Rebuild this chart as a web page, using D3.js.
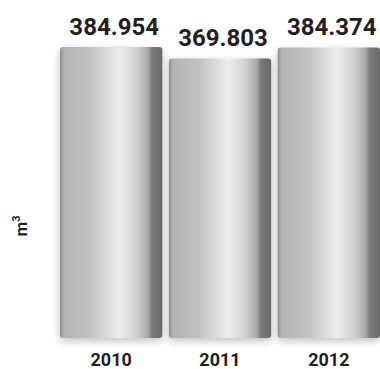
<!DOCTYPE html>
<html>
<head>
<meta charset="utf-8">
<script src="https://cdn.jsdelivr.net/npm/d3@7"></script>
<style>
  body { margin: 0; background: #fff; }
  text { font-family: Roboto, "Liberation Sans", sans-serif; font-weight: bold; fill: #231f20; }
</style>
</head>
<body>
<div id="canvas"></div>
<script>
const years = ["2010", "2011", "2012"];
const volumes = [384.954, 369.803, 384.374];
const valueLabels = ["384.954", "369.803", "384.374"];
const unitLabel = "m";

const canvas = d3.select("#canvas");

const width = 380;
const height = 369;
const margin = { top: 47, left: 60, bottom: 31, right: 0 };
const iheight = height - margin.top - margin.bottom;

const svg = canvas.append("svg").attr("width", width).attr("height", height);

const defs = svg.append("defs");
const grad = defs.append("linearGradient").attr("id", "barGrad");
[
  [0, "#8e8e8e"], [0.04, "#b4b4b4"], [0.3, "#c2c2c2"], [0.58, "#eeeeee"],
  [0.75, "#d0d0d0"], [0.86, "#a8a8a8"], [0.9, "#7a7a7a"], [1, "#6a6a6a"]
].forEach(([o, c]) => grad.append("stop").attr("offset", o).attr("stop-color", c));

const shadow = defs.append("filter").attr("id", "shadow")
  .attr("x", "-20%").attr("y", "-10%").attr("width", "140%").attr("height", "120%");
shadow.append("feGaussianBlur").attr("in", "SourceAlpha").attr("stdDeviation", 4);
shadow.append("feOffset").attr("dy", 3).attr("result", "blur");
shadow.append("feComponentTransfer").append("feFuncA").attr("type", "linear").attr("slope", 0.25);
const merge = shadow.append("feMerge");
merge.append("feMergeNode");
merge.append("feMergeNode").attr("in", "SourceGraphic");

const x = d3.scaleBand().domain(years).range([60, 380]).paddingInner(0.06).paddingOuter(0);
const y = d3.scaleLinear().domain([0, 385]).range([margin.top + iheight, margin.top]);

const g = svg.append("g");

g.selectAll("rect.bar")
  .data(years)
  .enter()
  .append("rect")
  .attr("class", "bar")
  .attr("x", (d) => x(d))
  .attr("width", x.bandwidth())
  .attr("y", (d, i) => y(volumes[i]))
  .attr("height", (d, i) => y(0) - y(volumes[i]))
  .attr("rx", 3)
  .style("fill", "url(#barGrad)")
  .style("filter", "url(#shadow)");

g.selectAll("text.value")
  .data(years)
  .enter()
  .append("text")
  .attr("class", "value")
  .attr("x", (d) => x(d) + x.bandwidth() / 2 + 3)
  .attr("y", (d, i) => y(volumes[i]) - 12)
  .attr("text-anchor", "middle")
  .style("font-size", "24px")
  .text((d, i) => valueLabels[i]);

g.selectAll("text.year")
  .data(years)
  .enter()
  .append("text")
  .attr("class", "year")
  .attr("x", (d) => x(d) + x.bandwidth() / 2)
  .attr("y", 366)
  .attr("text-anchor", "middle")
  .style("font-size", "18px")
  .text((d) => d);

const unit = svg.append("text")
  .attr("transform", "translate(27,226) rotate(-90)")
  .attr("text-anchor", "middle")
  .style("font-size", "17px");
unit.append("tspan").text(unitLabel);
unit.append("tspan").attr("dy", -7).style("font-size", "11px").text("3");
</script>
</body>
</html>
